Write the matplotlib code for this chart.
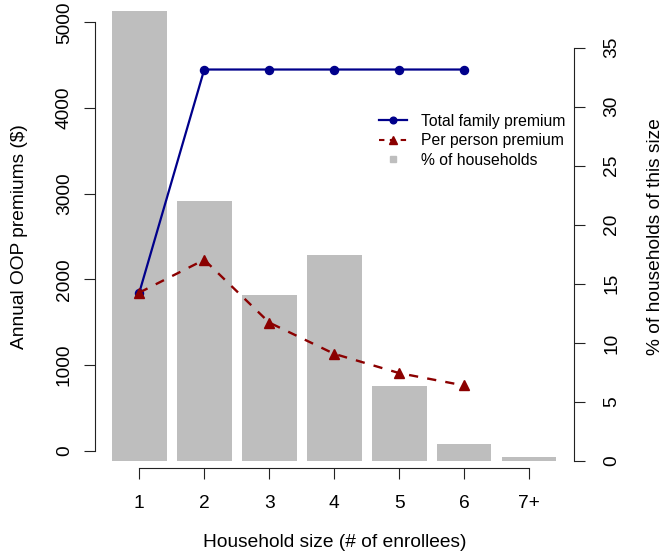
import matplotlib
matplotlib.use("Agg")
import matplotlib.pyplot as plt
from matplotlib.lines import Line2D
import numpy as np

plt.rcParams['font.family'] = ['Liberation Sans', 'DejaVu Sans']

# Household size categories
sizes = ['1', '2', '3', '4', '5', '6', '7+']
# % of households of each size (right axis)
pct_households = [38.1, 22.0, 14.05, 17.45, 6.35, 1.45, 0.35]
# Annual OOP premiums ($) for sizes 1..6 (left axis)
total_premium = [1845, 4450, 4450, 4450, 4450, 4450]
per_person_premium = [1845, 2228, 1495, 1130, 905, 760]

W, H = 665, 559
FS = 13.8          # base font (pt)
TICK_LEN = 7.9

fig = plt.figure(figsize=(W / 100, H / 100), dpi=100)
ax = fig.add_axes([95 / W, 1 - 467.7 / H, (574 - 95) / W, (467.7 - 5.3) / H])
ax2 = ax.twinx()

x = np.arange(1, len(sizes) + 1)
xl = np.arange(1, len(total_premium) + 1)

# bars on the right-hand (%) scale, drawn underneath
ax2.bar(x, pct_households, width=0.845, color='#bebebe', zorder=1)

# premium lines on the left-hand scale
ax.plot(xl, total_premium, color='#00008b', lw=1.6, marker='o', ms=5.8, zorder=3)
ax.plot(xl, per_person_premium, color='#8b0000', lw=1.7, ls=(0, (3.9, 3.9)),
        marker='^', ms=7.0, zorder=3)

ax.set_zorder(ax2.get_zorder() + 1)
ax.patch.set_visible(False)

ax.set_xlim(0.318, 7.693)
ax.set_ylim(-200, 5200)
ax2.set_ylim(-0.567, 38.58)

# spines R style
for s in ['top', 'right']:
    ax.spines[s].set_visible(False)
for s in ['top', 'left', 'bottom']:
    ax2.spines[s].set_visible(False)
ax.spines['left'].set_bounds(0, 5000)
ax.spines['bottom'].set_bounds(1, 7)
ax2.spines['right'].set_bounds(0, 35)
for sp in [ax.spines['left'], ax.spines['bottom'], ax2.spines['right']]:
    sp.set_linewidth(0.8)
    sp.set_color('#222222')

ax.set_xticks(x, sizes)
ax.set_yticks(np.arange(0, 5001, 1000))
ax.set_yticklabels([str(v) for v in range(0, 5001, 1000)], rotation=90, va='center')
ax2.set_yticks(np.arange(0, 36, 5))
ax2.set_yticklabels([str(v) for v in range(0, 36, 5)], rotation=90, va='center')

ax.tick_params(axis='x', length=TICK_LEN, width=0.8, pad=12, labelsize=FS, color='#222222')
ax.tick_params(axis='y', length=TICK_LEN, width=0.8, pad=8, labelsize=FS, color='#222222')
ax2.tick_params(axis='y', length=TICK_LEN, width=0.8, pad=13, labelsize=FS, color='#222222')

# axis titles
fig.text(335 / W, 1 - 546.7 / H, 'Household size (# of enrollees)', fontsize=FS,
         ha='center', va='baseline')
fig.text(23.7 / W, 1 - 236.5 / H, 'Annual OOP premiums ($)', fontsize=FS, rotation=90,
         rotation_mode='anchor', ha='center', va='baseline')
fig.text(659.5 / W, 1 - 236.5 / H, '% of households of this size', fontsize=FS, rotation=90,
         rotation_mode='anchor', ha='center', va='baseline')

# legend
handles = [
    Line2D([], [], color='#00008b', lw=1.6, marker='o', ms=4.8),
    Line2D([], [], color='#8b0000', lw=1.5, ls=(0, (2.6, 2.6)), marker='^', ms=5.6),
    Line2D([], [], color='#bebebe', ls='none', marker='s', ms=4.8),
]
labels = ['Total family premium', 'Per person premium', '% of households']
ax.legend(handles, labels, loc='upper left',
          bbox_to_anchor=(379 / W, 1 - 113.5 / H), bbox_transform=fig.transFigure,
          frameon=False, fontsize=FS * 0.82, handlelength=1.8,
          handletextpad=0.88, labelspacing=0.3, borderpad=0, borderaxespad=0,
          numpoints=1)

fig.savefig('out.png', dpi=100)
